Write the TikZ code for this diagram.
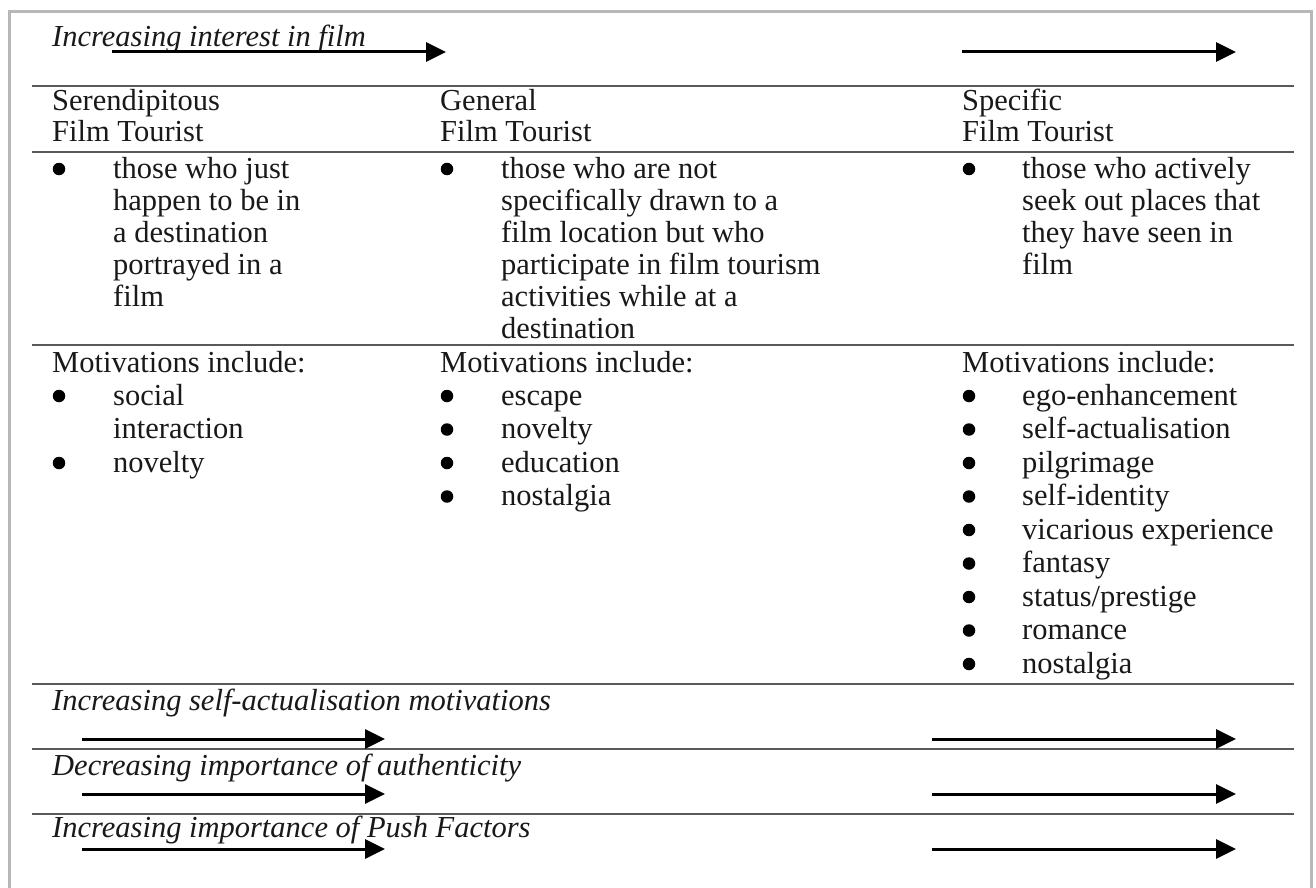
\documentclass[tikz,border=0pt]{standalone}
\usepackage{fontspec}
\setmainfont{Liberation Serif}
\usetikzlibrary{arrows.meta}
\tikzset{
  txt/.style={anchor=base west, inner sep=0pt, text=black!90, font=\fontsize{30.5}{33}\selectfont},
  itx/.style={anchor=base west, inner sep=0pt, text=black!90, font=\fontsize{30.5}{33}\selectfont\itshape},
  bul/.style={circle, fill=black, inner sep=0pt, minimum size=12.5pt},
  rulel/.style={draw=black!65, line width=1.6pt},
  trend/.style={draw=black, line width=3pt, -{Triangle[length=20pt,width=19pt]}},
  framel/.style={draw=black!28, line width=3pt}
}
\begin{document}
\begin{tikzpicture}[x=1pt,y=-1pt]
\useasboundingbox (0,0) rectangle (1316,888);
\fill[white] (0,0) rectangle (1316,888);
% outer frame
\draw[framel] (9,900) -- (9,12) -- (1311,12) -- (1311,900);

% horizontal rules
\foreach \yy [count=\k] in {86,152,345,684,749,814} {
  \coordinate (rl\k) at (32,\yy);
  \coordinate (rr\k) at (1294,\yy);
  \draw[rulel] (rl\k) -- (rr\k);
}

% top label and arrows
\node[itx] (toplabel) at (52,47) {Increasing interest in film};
\coordinate (t1s) at (112,52); \coordinate (t1e) at (446,52);
\coordinate (t2s) at (962,52); \coordinate (t2e) at (1236,52);
\draw[trend] (t1s) -- (t1e);
\draw[trend] (t2s) -- (t2e);

% headers
\node[txt] (h1a) at (52,111) {Serendipitous};
\node[txt] (h1b) at (52,142) {Film Tourist};
\node[txt] (h2a) at (440,111) {General};
\node[txt] (h2b) at (440,142) {Film Tourist};
\node[txt] (h3a) at (962,111) {Specific};
\node[txt] (h3b) at (962,142) {Film Tourist};

% description row
\node[bul] (d1b) at (59,169) {};
\node[bul] (d2b) at (447,169) {};
\node[bul] (d3b) at (969,169) {};
\foreach \t [count=\i, evaluate=\i as \yy using 178+32*(\i-1)] in
  {those who just, happen to be in, a destination, portrayed in a, film}
  { \node[txt] (d1l\i) at (113,\yy) {\t}; }
\foreach \t [count=\i, evaluate=\i as \yy using 178+32*(\i-1)] in
  {those who are not, specifically drawn to a, film location but who,
   participate in film tourism, activities while at a, destination}
  { \node[txt] (d2l\i) at (501,\yy) {\t}; }
\foreach \t [count=\i, evaluate=\i as \yy using 178+32*(\i-1)] in
  {those who actively, seek out places that, they have seen in, film}
  { \node[txt] (d3l\i) at (1022,\yy) {\t}; }

% motivations row
\node[txt] (m1h) at (52,372) {Motivations include:};
\node[txt] (m2h) at (440,372) {Motivations include:};
\node[txt] (m3h) at (962,372) {Motivations include:};
\node[bul] (m1b1) at (59,396) {};
\node[txt] (m1l1) at (113,405) {social};
\node[txt] (m1l2) at (113,438.5) {interaction};
\node[bul] (m1b2) at (59,463) {};
\node[txt] (m1l3) at (113,472) {novelty};
\foreach \t [count=\i, evaluate=\i as \yy using 405+33.5*(\i-1),
             evaluate=\i as \yb using 396+33.5*(\i-1)] in
  {escape, novelty, education, nostalgia}
  { \node[bul] (m2b\i) at (447,\yb) {};
    \node[txt] (m2l\i) at (501,\yy) {\t}; }
\foreach \t [count=\i, evaluate=\i as \yy using 405+33.5*(\i-1),
             evaluate=\i as \yb using 396+33.5*(\i-1)] in
  {ego-enhancement, self-actualisation, pilgrimage, self-identity,
   vicarious experience, fantasy, status/prestige, romance, nostalgia}
  { \node[bul] (m3b\i) at (969,\yb) {};
    \node[txt] (m3l\i) at (1022,\yy) {\t}; }

% bottom trends
\node[itx] (b1) at (52,710) {Increasing self-actualisation motivations};
\node[itx] (b2) at (52,775) {Decreasing importance of authenticity};
\node[itx] (b3) at (52,837) {Increasing importance of Push Factors};
\foreach \yy [count=\k] in {739,794,849} {
  \coordinate (bl\k s) at (82,\yy);  \coordinate (bl\k e) at (385,\yy);
  \coordinate (br\k s) at (932,\yy); \coordinate (br\k e) at (1236,\yy);
  \draw[trend] (bl\k s) -- (bl\k e);
  \draw[trend] (br\k s) -- (br\k e);
}
\end{tikzpicture}
\end{document}
